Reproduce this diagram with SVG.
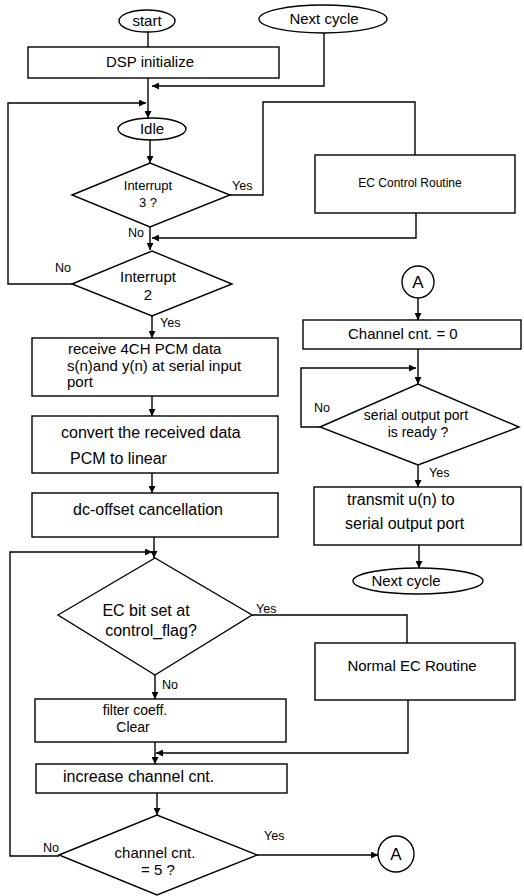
<svg xmlns="http://www.w3.org/2000/svg" width="524" height="896" viewBox="0 0 524 896">
<defs>
<style>
.s{fill:#fff;stroke:#000;stroke-width:1.4}
.c{fill:none;stroke:#000;stroke-width:1.4}
text{font-family:"Liberation Sans",Arial,sans-serif;fill:#000}
.m{text-anchor:middle}
.f14{font-size:14px}
.f15{font-size:15px}
.f16{font-size:16px}
.l{font-size:12.5px}
</style>
<marker id="ah" viewBox="0 0 10 10" refX="10" refY="5" markerWidth="7" markerHeight="7" markerUnits="userSpaceOnUse" orient="auto">
<path d="M0,0 L10,5 L0,10 z" fill="#000"/>
</marker>
</defs>
<rect width="524" height="896" fill="#fff"/>
<g id="connectors">
<path class="c" d="M148,32 V47"/>
<path class="c" d="M148,78 V118" marker-end="url(#ah)"/>
<path class="c" d="M324,33 V86 H152" marker-end="url(#ah)"/>
<path class="c" d="M72,284 H8 V103 H146" marker-end="url(#ah)"/>
<path class="c" d="M150,140 V163" marker-end="url(#ah)"/>
<path class="c" d="M230,195 H263 V102 H415 V155"/>
<path class="c" d="M416,213 V238 H152" marker-end="url(#ah)"/>
<path class="c" d="M150,227 V250" marker-end="url(#ah)"/>
<path class="c" d="M152,316 V338" marker-end="url(#ah)"/>
<path class="c" d="M152,396 V416" marker-end="url(#ah)"/>
<path class="c" d="M152,473 V493" marker-end="url(#ah)"/>
<path class="c" d="M154,537 V558" marker-end="url(#ah)"/>
<path class="c" d="M59,856 H10 V552 H152" marker-end="url(#ah)"/>
<path class="c" d="M252,615 H407 V643"/>
<path class="c" d="M408,700 V753 H156" marker-end="url(#ah)"/>
<path class="c" d="M155,675 V699" marker-end="url(#ah)"/>
<path class="c" d="M155,742 V764" marker-end="url(#ah)"/>
<path class="c" d="M157,793 V815" marker-end="url(#ah)"/>
<path class="c" d="M257,855 H378" marker-end="url(#ah)"/>
<path class="c" d="M418,298 V320" marker-end="url(#ah)"/>
<path class="c" d="M418,349 V384" marker-end="url(#ah)"/>
<path class="c" d="M320,427 H301 V368 H416" marker-end="url(#ah)"/>
<path class="c" d="M418,465 V487" marker-end="url(#ah)"/>
<path class="c" d="M419,545 V568" marker-end="url(#ah)"/>
<text class="l" x="128" y="237">No</text>
<text class="l" x="232" y="190">Yes</text>
<text class="l" x="55" y="272">No</text>
<text class="l" x="160" y="327">Yes</text>
<text class="l" x="314" y="412">No</text>
<text class="l" x="429" y="477">Yes</text>
<text class="l" x="256" y="613">Yes</text>
<text class="l" x="162" y="689">No</text>
<text class="l" x="43" y="852">No</text>
<text class="l" x="264" y="840">Yes</text>
</g>
<g id="start"><ellipse class="s" cx="147" cy="21" rx="28" ry="11"/><text class="m f15" x="147" y="26">start</text></g>
<g id="next-top"><ellipse class="s" cx="323" cy="19" rx="64" ry="14"/><text class="m f15" x="324" y="24">Next cycle</text></g>
<g id="dsp"><rect class="s" x="28" y="47" width="251" height="31"/><text class="m f15" x="150" y="67">DSP initialize</text></g>
<g id="idle"><ellipse class="s" cx="152" cy="129" rx="34" ry="11"/><text class="m f15" x="152" y="134">Idle</text></g>
<g id="int3"><polygon class="s" points="72,195 150,163 230,195 150,227"/><text class="m" font-size="13" x="148" y="190">Interrupt</text><text class="m" font-size="13" x="148" y="207">3 ?</text></g>
<g id="ecctrl"><rect class="s" x="315" y="155" width="200" height="58"/><text class="m" font-size="12" x="410" y="187">EC Control Routine</text></g>
<g id="int2"><polygon class="s" points="72,284 152,251 232,284 152,316"/><text class="m f15" x="148" y="282">Interrupt</text><text class="m f15" x="148" y="300">2</text></g>
<g id="receive"><rect class="s" x="32" y="338" width="246" height="58"/><text class="f15" x="68" y="354">receive 4CH PCM data</text><text class="f15" x="67" y="371">s(n)and y(n) at serial input</text><text class="f15" x="67" y="387">port</text></g>
<g id="convert"><rect class="s" x="32" y="416" width="246" height="57"/><text class="f16" x="61" y="438">convert the received data</text><text class="f16" x="70" y="464">PCM to linear</text></g>
<g id="dcoff"><rect class="s" x="32" y="493" width="246" height="44"/><text class="f16" x="73" y="515">dc-offset cancellation</text></g>
<g id="ecbit"><polygon class="s" points="58,615 155,558 252,615 155,675"/><text class="m f16" x="146" y="616">EC bit set at</text><text class="m f16" x="151" y="636">control_flag?</text></g>
<g id="normalec"><rect class="s" x="315" y="643" width="200" height="57"/><text class="m f15" x="412" y="671">Normal EC Routine</text></g>
<g id="filter"><rect class="s" x="35" y="699" width="251" height="43"/><text class="m f14" x="135" y="715">filter coeff.</text><text class="m f14" x="133" y="732">Clear</text></g>
<g id="increase"><rect class="s" x="36" y="764" width="251" height="29"/><text class="f16" x="63" y="782">increase channel cnt.</text></g>
<g id="chan5"><polygon class="s" points="59,855 157,815 257,855 157,895"/><text class="m f15" x="155" y="858">channel cnt.</text><text class="m f15" x="158" y="875">= 5 ?</text></g>
<g id="a-top"><circle class="s" cx="418" cy="282" r="16"/><text class="m" font-size="17" x="418" y="288">A</text></g>
<g id="chan0"><rect class="s" x="303" y="320" width="218" height="29"/><text class="f15" x="348" y="339">Channel cnt. = 0</text></g>
<g id="serial"><polygon class="s" points="320,427 418,384 519,427 418,465"/><text class="m f14" x="416" y="420">serial output port</text><text class="m f14" x="418" y="437">is ready ?</text></g>
<g id="transmit"><rect class="s" x="314" y="487" width="207" height="58"/><text class="f16" x="347" y="505">transmit u(n) to</text><text class="f16" x="345" y="529">serial output port</text></g>
<g id="next-bottom"><ellipse class="s" cx="418" cy="581" rx="65" ry="13"/><text class="m f15" x="406" y="586">Next cycle</text></g>
<g id="a-bottom"><circle class="s" cx="396" cy="854" r="18"/><text class="m" font-size="17" x="396" y="860">A</text></g>
</svg>
